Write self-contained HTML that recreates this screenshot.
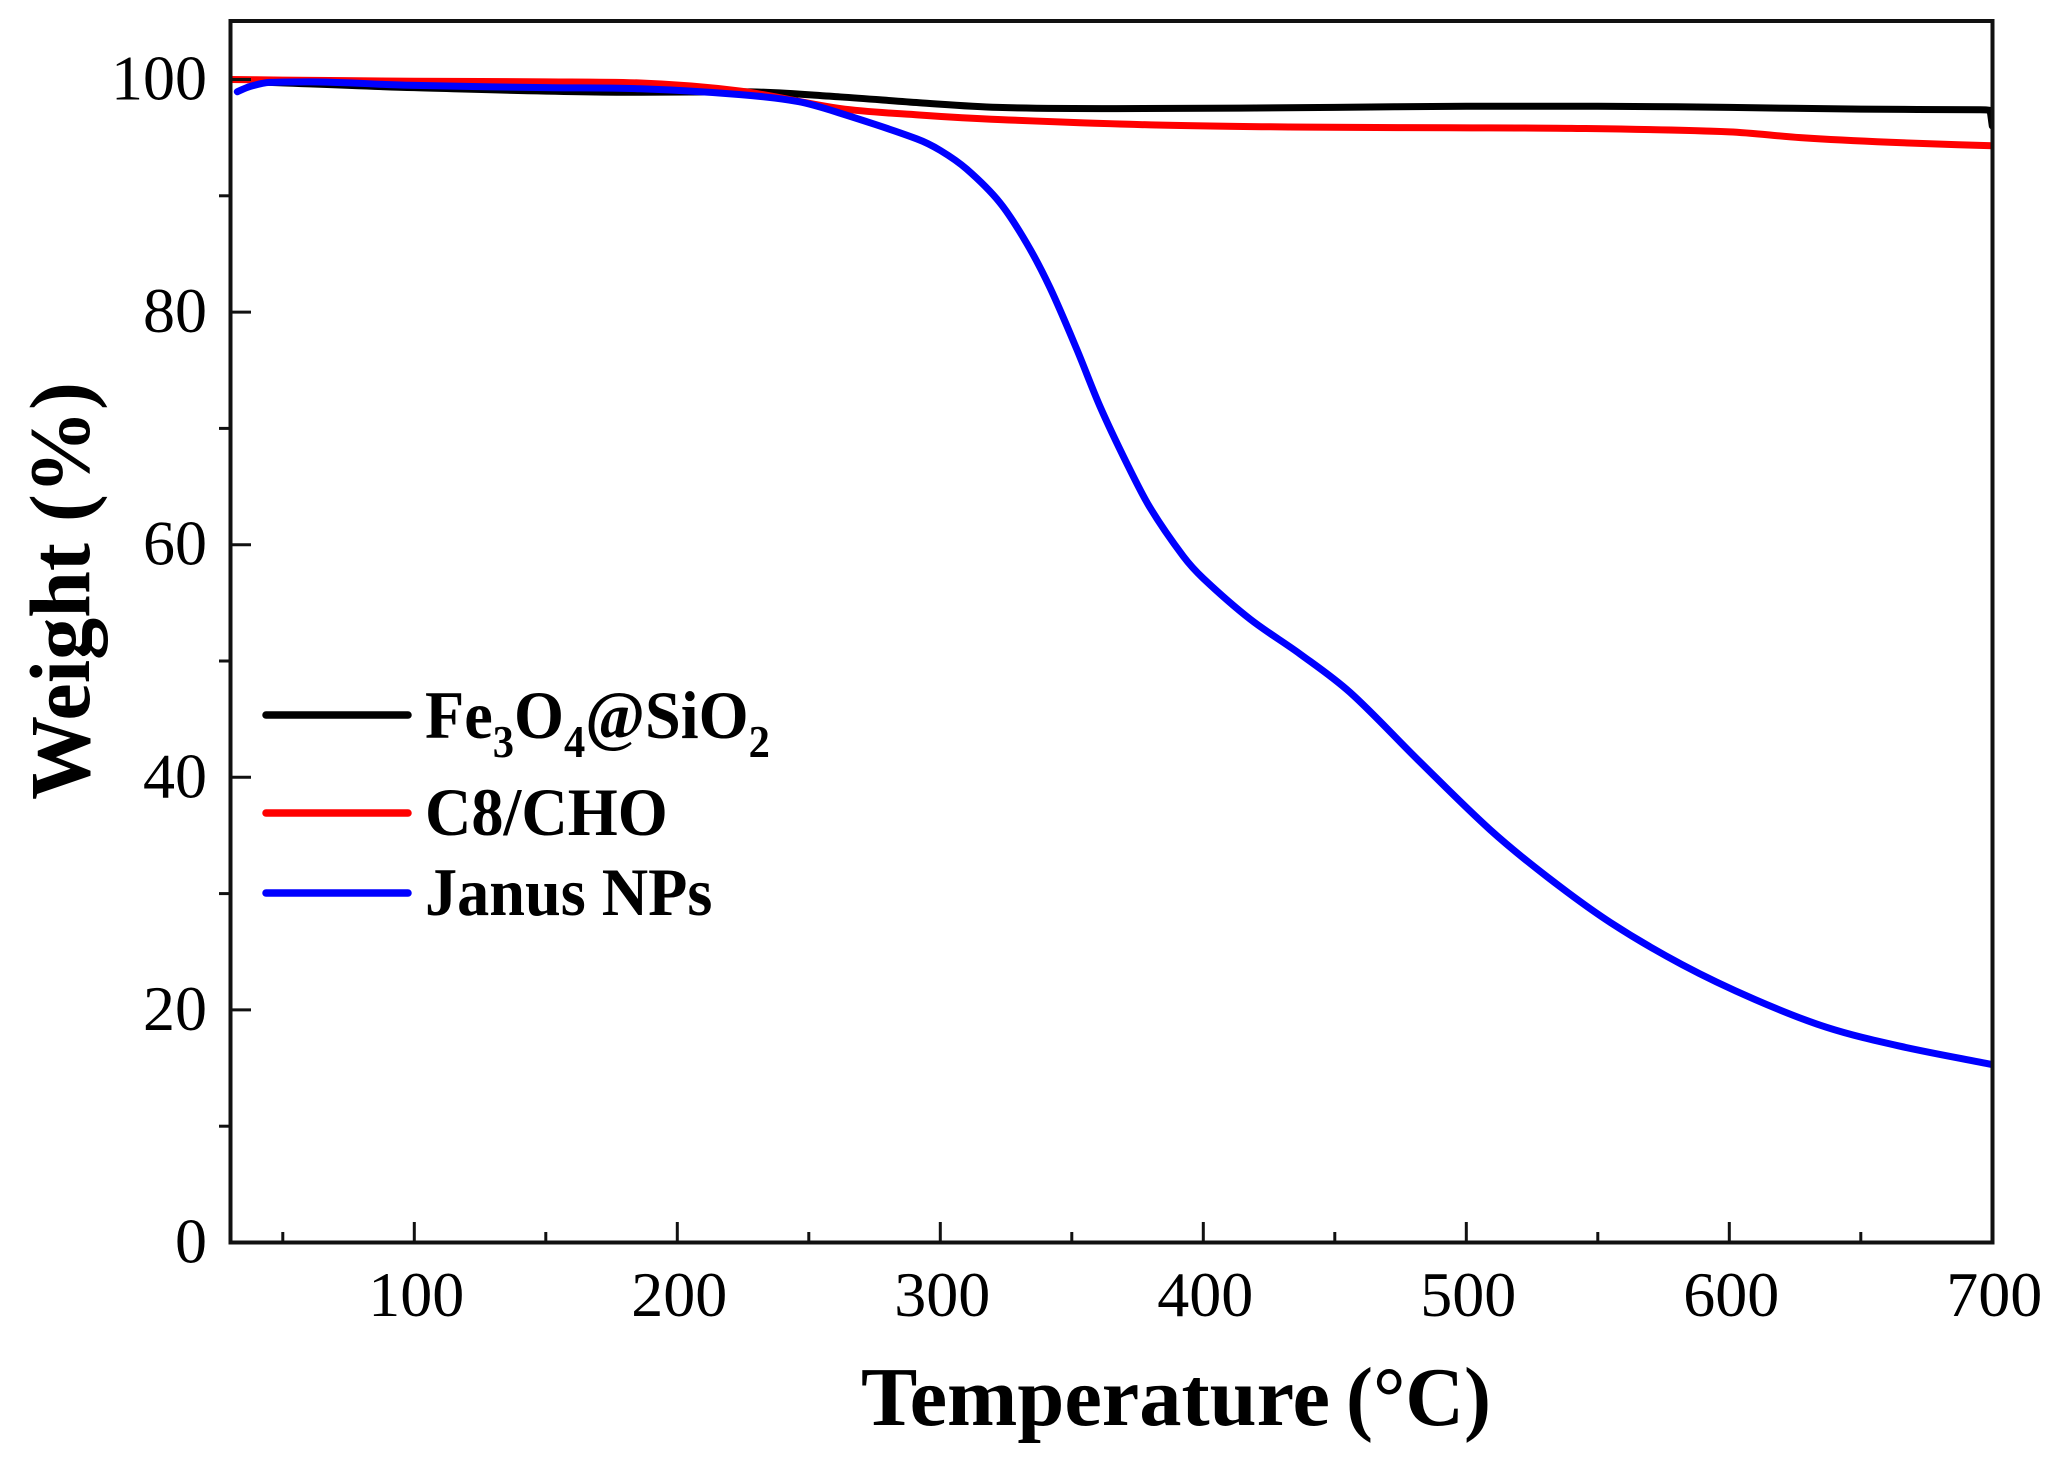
<!DOCTYPE html>
<html lang="en">
<head>
<meta charset="utf-8">
<title>TGA weight loss curves</title>
<style>
html,body{margin:0;padding:0;background:#fff;width:2055px;height:1459px;overflow:hidden}
svg{display:block}
text{font-family:"Liberation Serif",serif;fill:#000}
.b{font-weight:bold}
</style>
</head>
<body>
<svg id="chart" xmlns="http://www.w3.org/2000/svg" width="2055" height="1459" viewBox="0 0 2055 1459">
  <defs><clipPath id="plot-clip"><rect x="230" y="20" width="1764" height="1224"/></clipPath></defs>
  <g id="curves" clip-path="url(#plot-clip)"></g>
  <g id="ticks"></g>
  <rect x="230.5" y="21" width="1762" height="1221.5" fill="none" stroke="#111" stroke-width="4"/>
  <g id="x-labels"></g>
  <g id="y-labels"></g>
  <g>
    <text class="b" x="861" y="1425" font-size="84" textLength="469" lengthAdjust="spacingAndGlyphs">Temperature</text>
    <text class="b" x="1346" y="1425" font-size="84" textLength="145" lengthAdjust="spacingAndGlyphs">(°C)</text>
  </g>
  <text class="b" transform="translate(89 800) rotate(-90)" x="0" y="0" font-size="86" textLength="418" lengthAdjust="spacingAndGlyphs">Weight (%)</text>
  <g>
    <g>
      <line x1="266" x2="408" y1="715" y2="715" stroke="#000" stroke-width="7.5" stroke-linecap="round"/>
      <text class="b" transform="translate(425 738) scale(0.945 1)" x="0" y="0" font-size="68">Fe<tspan font-size="45" dy="19">3</tspan><tspan dy="-19">O</tspan><tspan font-size="45" dy="19">4</tspan><tspan dy="-19">@SiO</tspan><tspan font-size="45" dy="19">2</tspan></text>
    </g>
    <g>
      <line x1="266" x2="408" y1="813" y2="813" stroke="#f00" stroke-width="7.5" stroke-linecap="round"/>
      <text class="b" transform="translate(425 835) scale(0.945 1)" x="0" y="0" font-size="68">C8/CHO</text>
    </g>
    <g>
      <line x1="266" x2="408" y1="893" y2="893" stroke="#00f" stroke-width="7.5" stroke-linecap="round"/>
      <text class="b" transform="translate(425 915) scale(0.945 1)" x="0" y="0" font-size="68">Janus NPs</text>
    </g>
  </g>
</svg>
<script>
var xMajorTicks = [100, 200, 300, 400, 500, 600, 700];
var xMinorTicks = [50, 150, 250, 350, 450, 550, 650];
var yMajorTicks = [0, 20, 40, 60, 80, 100];
var yMinorTicks = [10, 30, 50, 70, 90];

var blackTemps = [40, 100, 186, 224, 262, 292, 322, 367, 450, 500, 550, 600, 650, 695, 699, 700];
var blackWeight = [99.8, 99.3, 98.9, 98.95, 98.5, 98.0, 97.6, 97.5, 97.6, 97.7, 97.7, 97.6, 97.45, 97.4, 97.35, 96.0];

var redTemps = [30, 50, 100, 150, 186, 224, 262, 292, 323, 380, 440, 494, 540, 600, 627, 661, 700];
var redWeight = [100, 99.95, 99.85, 99.8, 99.7, 99.0, 97.5, 96.95, 96.55, 96.1, 95.9, 95.85, 95.8, 95.5, 95.0, 94.6, 94.3];

var blueTemps = [32.7, 37.5, 45, 60, 98, 150, 186, 224, 246, 262, 291, 300, 310, 322.7, 332.9, 341.7, 351.9, 360.7, 370.9, 379.7, 392.4, 400, 417.8, 436.8, 455.8, 481.6, 509, 531, 554.9, 582, 609.7, 637, 664.5, 700];
var blueWeight = [98.95, 99.4, 99.75, 99.8, 99.5, 99.3, 99.2, 98.7, 98.1, 97.1, 94.9, 93.9, 92.3, 89.4, 85.9, 82.1, 76.8, 71.9, 67.0, 63.2, 59.0, 57.1, 53.6, 50.6, 47.3, 41.5, 35.5, 31.4, 27.5, 23.9, 20.9, 18.5, 16.9, 15.3];

var NS = 'http://www.w3.org/2000/svg';
function xScale(t) { return 230.2 + (t - 30) * 2.63; }
function yScale(v) { return 1242.5 - v * 11.63; }

function smoothPath(temps, vals) {
  var p = temps.map(function (t, i) { return [xScale(t), yScale(vals[i])]; });
  var n = p.length, s = [], m = [], i;
  for (i = 0; i < n - 1; i++) s[i] = (p[i + 1][1] - p[i][1]) / (p[i + 1][0] - p[i][0]);
  m[0] = s[0];
  m[n - 1] = s[n - 2];
  for (i = 1; i < n - 1; i++) {
    m[i] = s[i - 1] * s[i] <= 0 ? 0 : (p[i + 1][1] - p[i - 1][1]) / (p[i + 1][0] - p[i - 1][0]);
  }
  for (i = 0; i < n - 1; i++) {
    var lim = 3 * Math.abs(s[i]);
    m[i] = Math.max(-lim, Math.min(lim, m[i]));
    m[i + 1] = Math.max(-lim, Math.min(lim, m[i + 1]));
  }
  var d = 'M' + p[0][0].toFixed(2) + ' ' + p[0][1].toFixed(2);
  for (i = 0; i < n - 1; i++) {
    var h = p[i + 1][0] - p[i][0];
    d += 'C' + (p[i][0] + h / 3).toFixed(2) + ' ' + (p[i][1] + m[i] * h / 3).toFixed(2) + ' ' +
         (p[i + 1][0] - h / 3).toFixed(2) + ' ' + (p[i + 1][1] - m[i + 1] * h / 3).toFixed(2) + ' ' +
         p[i + 1][0].toFixed(2) + ' ' + p[i + 1][1].toFixed(2);
  }
  return d;
}

var curves = document.getElementById('curves');
function addCurve(name, temps, vals, color) {
  var el = document.createElementNS(NS, 'path');
  
  
  el.setAttribute('d', smoothPath(temps, vals));
  el.setAttribute('fill', 'none');
  el.setAttribute('stroke', color);
  el.setAttribute('stroke-width', '7');
  el.setAttribute('stroke-linecap', 'round');
  el.setAttribute('stroke-linejoin', 'round');
  curves.appendChild(el);
}
addCurve('curve-fe3o4-sio2', blackTemps, blackWeight, '#000');
addCurve('curve-c8-cho', redTemps, redWeight, '#f00');
addCurve('curve-janus-nps', blueTemps, blueWeight, '#00f');

var ticks = document.getElementById('ticks');
function addTick(name, x1, y1, x2, y2) {
  var el = document.createElementNS(NS, 'line');
  
  
  el.setAttribute('x1', x1);
  el.setAttribute('y1', y1);
  el.setAttribute('x2', x2);
  el.setAttribute('y2', y2);
  el.setAttribute('stroke', '#111');
  el.setAttribute('stroke-width', '3');
  ticks.appendChild(el);
}
xMajorTicks.forEach(function (t) { addTick('x-major-tick', xScale(t), 1242, xScale(t), 1222); });
xMinorTicks.forEach(function (t) { addTick('x-minor-tick', xScale(t), 1242, xScale(t), 1232); });
yMajorTicks.forEach(function (v) { addTick('y-major-tick', 231, yScale(v), 251, yScale(v)); });
yMinorTicks.forEach(function (v) { addTick('y-minor-tick', 231, yScale(v), 219, yScale(v)); });

var xLabels = document.getElementById('x-labels');
xMajorTicks.forEach(function (t) {
  var el = document.createElementNS(NS, 'text');
  
  
  el.setAttribute('x', xScale(t) + 2);
  el.setAttribute('y', 1316);
  el.setAttribute('font-size', '64');
  el.setAttribute('text-anchor', 'middle');
  el.textContent = t;
  xLabels.appendChild(el);
});
var yLabels = document.getElementById('y-labels');
yMajorTicks.forEach(function (v) {
  var el = document.createElementNS(NS, 'text');
  
  
  el.setAttribute('x', 207);
  el.setAttribute('y', yScale(v) + 20);
  el.setAttribute('font-size', '64');
  el.setAttribute('text-anchor', 'end');
  el.textContent = v;
  yLabels.appendChild(el);
});
</script>
</body>
</html>
